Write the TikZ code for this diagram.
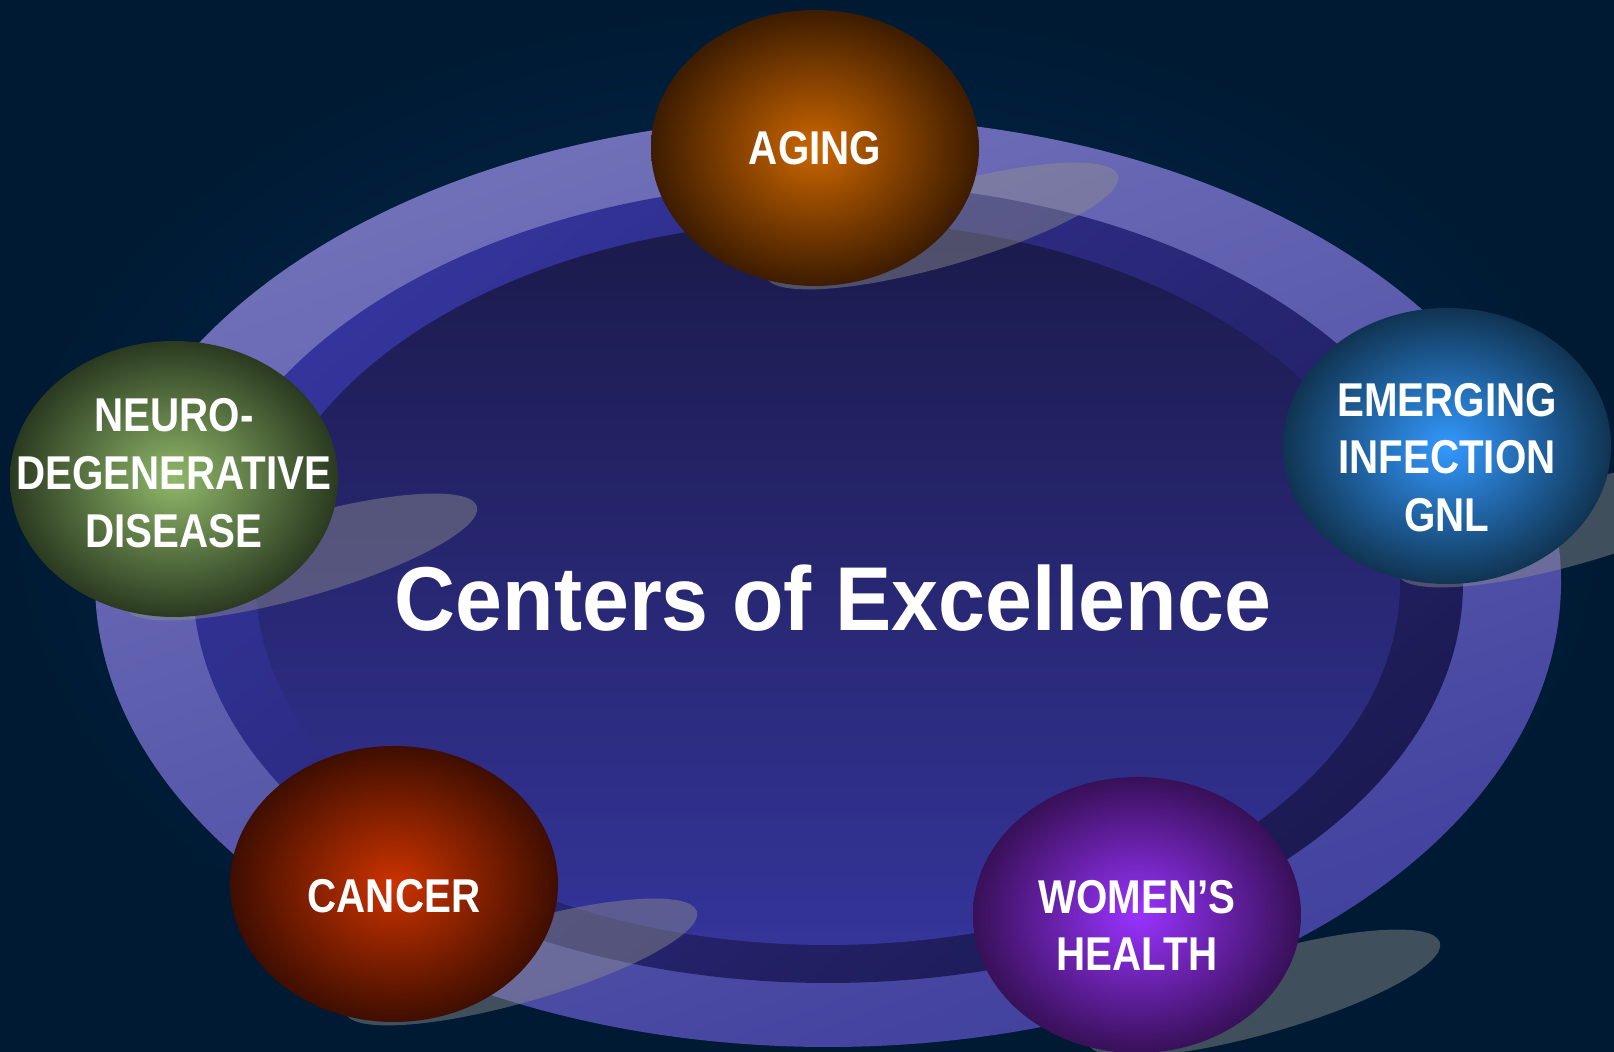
\documentclass[tikz,border=0pt]{standalone}
\usepackage{fontspec}
\setmainfont{Liberation Sans}
\newfontfamily\ballfont{Liberation Sans}[FakeStretch=0.85]
\newfontfamily\titlefont{Liberation Sans}[FakeStretch=0.93]
\usetikzlibrary{shapes.geometric}

\definecolor{bgmid}{HTML}{032E5A}
\definecolor{bgedge}{HTML}{001A33}
\definecolor{ringtop}{HTML}{7272BA}
\definecolor{ringbot}{HTML}{40409E}
\definecolor{midtop}{HTML}{34349C}
\definecolor{midbot}{HTML}{1C1A52}
\definecolor{innertop}{HTML}{1B1A4B}
\definecolor{innerbot}{HTML}{34349A}
\definecolor{agingin}{HTML}{CC6600}
\definecolor{agingout}{HTML}{3D1C00}
\definecolor{neuroin}{HTML}{90B86A}
\definecolor{neuroout}{HTML}{2A3A20}
\definecolor{infectin}{HTML}{3399FF}
\definecolor{infectout}{HTML}{103452}
\definecolor{cancerin}{HTML}{CC3300}
\definecolor{cancerout}{HTML}{3F0E00}
\definecolor{womenin}{HTML}{9933FF}
\definecolor{womenout}{HTML}{381058}
\definecolor{shadowgray}{HTML}{909090}

\tikzset{
  ball/.style={ellipse, minimum width=3.28cm, minimum height=2.76cm,
    inner sep=-0.5cm, text=white, align=center,
    font=\ballfont\bfseries\fontsize{13.5}{16.4}\selectfont},
  ballshadow/.style={fill=shadowgray, fill opacity=0.45},
  titletext/.style={text=white, inner sep=0pt,
    font=\titlefont\bfseries\fontsize{25.8}{30}\selectfont}
}

\begin{document}
\begin{tikzpicture}
  \clip (0,0) rectangle (16.14,10.52);
  \shade[inner color=bgmid, outer color=bgedge] (0,0) rectangle (16.14,10.52);

  % the rings
  \shade[top color=ringtop, bottom color=ringbot, shading angle=20]
    (8.28,4.70) ellipse [x radius=7.33, y radius=4.65];
  \shade[top color=midtop, bottom color=midbot, shading angle=40]
    (8.28,4.69) ellipse [x radius=6.35, y radius=4.00];
  \shade[top color=innertop, bottom color=innerbot]
    (8.28,4.69) ellipse [x radius=5.72, y radius=3.62];

  % centres of the balls
  \coordinate (aging-c) at (8.15,9.04);
  \coordinate (neuro-c) at (1.74,5.73);
  \coordinate (infect-c) at (14.47,6.06);
  \coordinate (cancer-c) at (3.94,1.68);
  \coordinate (women-c) at (11.37,1.37);

  % shadows under the balls
  \foreach \c in {aging-c,neuro-c,infect-c,cancer-c,women-c}
    \fill[ballshadow] ([shift={(1.27,-0.78)}]\c)
      ellipse [x radius=1.83, y radius=0.40, rotate=16];

  \node[ball, inner color=agingin, outer color=agingout] (aging) at (aging-c) {AGING};
  \node[ball, inner color=neuroin, outer color=neuroout] (neuro) at (neuro-c)
    {NEURO-\\DEGENERATIVE\\DISEASE\rule[-0.12cm]{0pt}{0.12cm}};
  \node[ball, inner color=infectin, outer color=infectout] (infect) at (infect-c)
    {\rule{0pt}{0.56cm}EMERGING\\INFECTION\\GNL};
  \node[ball, inner color=cancerin, outer color=cancerout] (cancer) at (cancer-c)
    {\rule{0pt}{0.58cm}CANCER};
  \node[ball, inner color=womenin, outer color=womenout] (women) at (women-c)
    {\rule{0pt}{0.54cm}WOMEN’S\\HEALTH};

  \node[titletext, anchor=base] (title) at (8.33,4.21) {Centers of Excellence};
\end{tikzpicture}
\end{document}
